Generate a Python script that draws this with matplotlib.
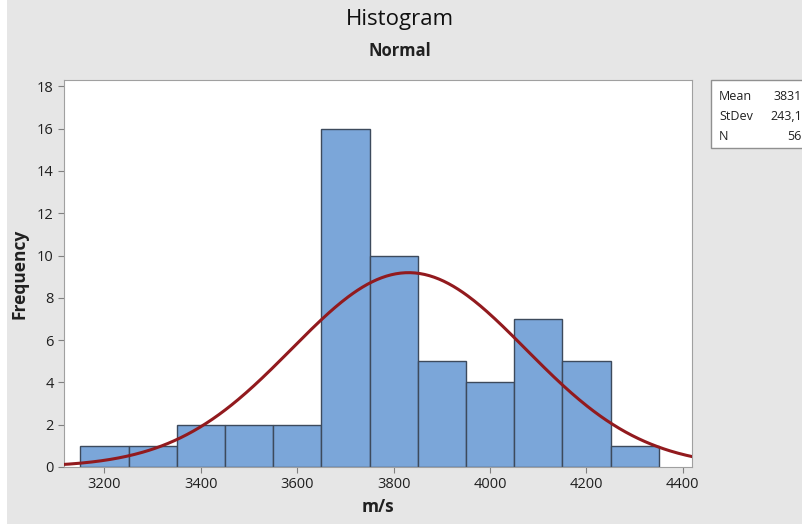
# Histograma con curva normal ajustada (estilo Minitab)
import numpy as np
import matplotlib.pyplot as plt
from matplotlib.patches import Rectangle

# Datos
centros = [3200, 3300, 3400, 3500, 3600, 3700, 3800, 3900, 4000, 4100, 4200, 4300]
frecuencias = [1, 1, 2, 2, 2, 16, 10, 5, 4, 7, 5, 1]
ancho = 100
media = 3831
desv = 243.1
n = 56
xticks = [3200, 3400, 3600, 3800, 4000, 4200, 4400]
yticks = [0, 2, 4, 6, 8, 10, 12, 14, 16, 18]

plt.rcParams['font.family'] = ['Open Sans', 'DejaVu Sans']

fondo = '#e6e6e6'
fig = plt.figure(figsize=(8.03, 5.24), dpi=100, facecolor=fondo)
fig.patches.append(Rectangle((0, 0), 7/803, 1, transform=fig.transFigure,
                             facecolor='white', edgecolor='none'))
ax = fig.add_axes([64/803, 1 - 467/524, (692 - 64)/803, (467 - 80)/524])

ax.bar(centros, frecuencias, width=ancho, color='#7ba6d9',
       edgecolor='#3d4a5c', linewidth=1.0, zorder=2)

# curva normal ajustada (escalada a frecuencia)
xs = np.linspace(3100, 4420, 400)
ys = n * ancho / (desv * np.sqrt(2 * np.pi)) * np.exp(-0.5 * ((xs - media) / desv) ** 2)
ax.plot(xs, ys, color='#921a1e', linewidth=2.2, zorder=3)

ax.set_xlim(3116, 4419)
ax.set_ylim(0, 18.3)
ax.set_xticks(xticks)
ax.set_yticks(yticks)
ax.tick_params(colors='#808080', labelcolor='#202020', labelsize=10.5, length=4)
for s in ax.spines.values():
    s.set_color('#a0a0a0')

ax.set_xlabel('m/s', fontsize=12.5, fontweight='bold', color='#202020', labelpad=4)
ax.set_ylabel('Frequency', fontsize=12.5, fontweight='bold', color='#202020', labelpad=6)

fig.text(400/803, 1 - 20/524, 'Histogram', ha='center', va='center', fontsize=16,
         fontweight='medium', color='#101010')
fig.text(400/803, 1 - 51/524, 'Normal', ha='center', va='center', fontsize=12,
         fontweight='bold', color='#202020')

# cuadro de estadisticos
fig.patches.append(Rectangle((711/803, 1 - 148/524), 100/803, 68/524, transform=fig.transFigure,
                             facecolor='white', edgecolor='#909090', linewidth=1))
etiquetas = ['Mean', 'StDev', 'N']
valores = ['3831', '243,1', '56']
for i, (e, v) in enumerate(zip(etiquetas, valores)):
    y = 1 - (96 + i * 20) / 524
    fig.text(719/803, y, e, ha='left', va='center', fontsize=9, fontweight='medium', color='#202020')
    fig.text(802/803, y, v, ha='right', va='center', fontsize=9, fontweight='medium', color='#202020')

plt.savefig('out.png', dpi=100, facecolor=fondo)
